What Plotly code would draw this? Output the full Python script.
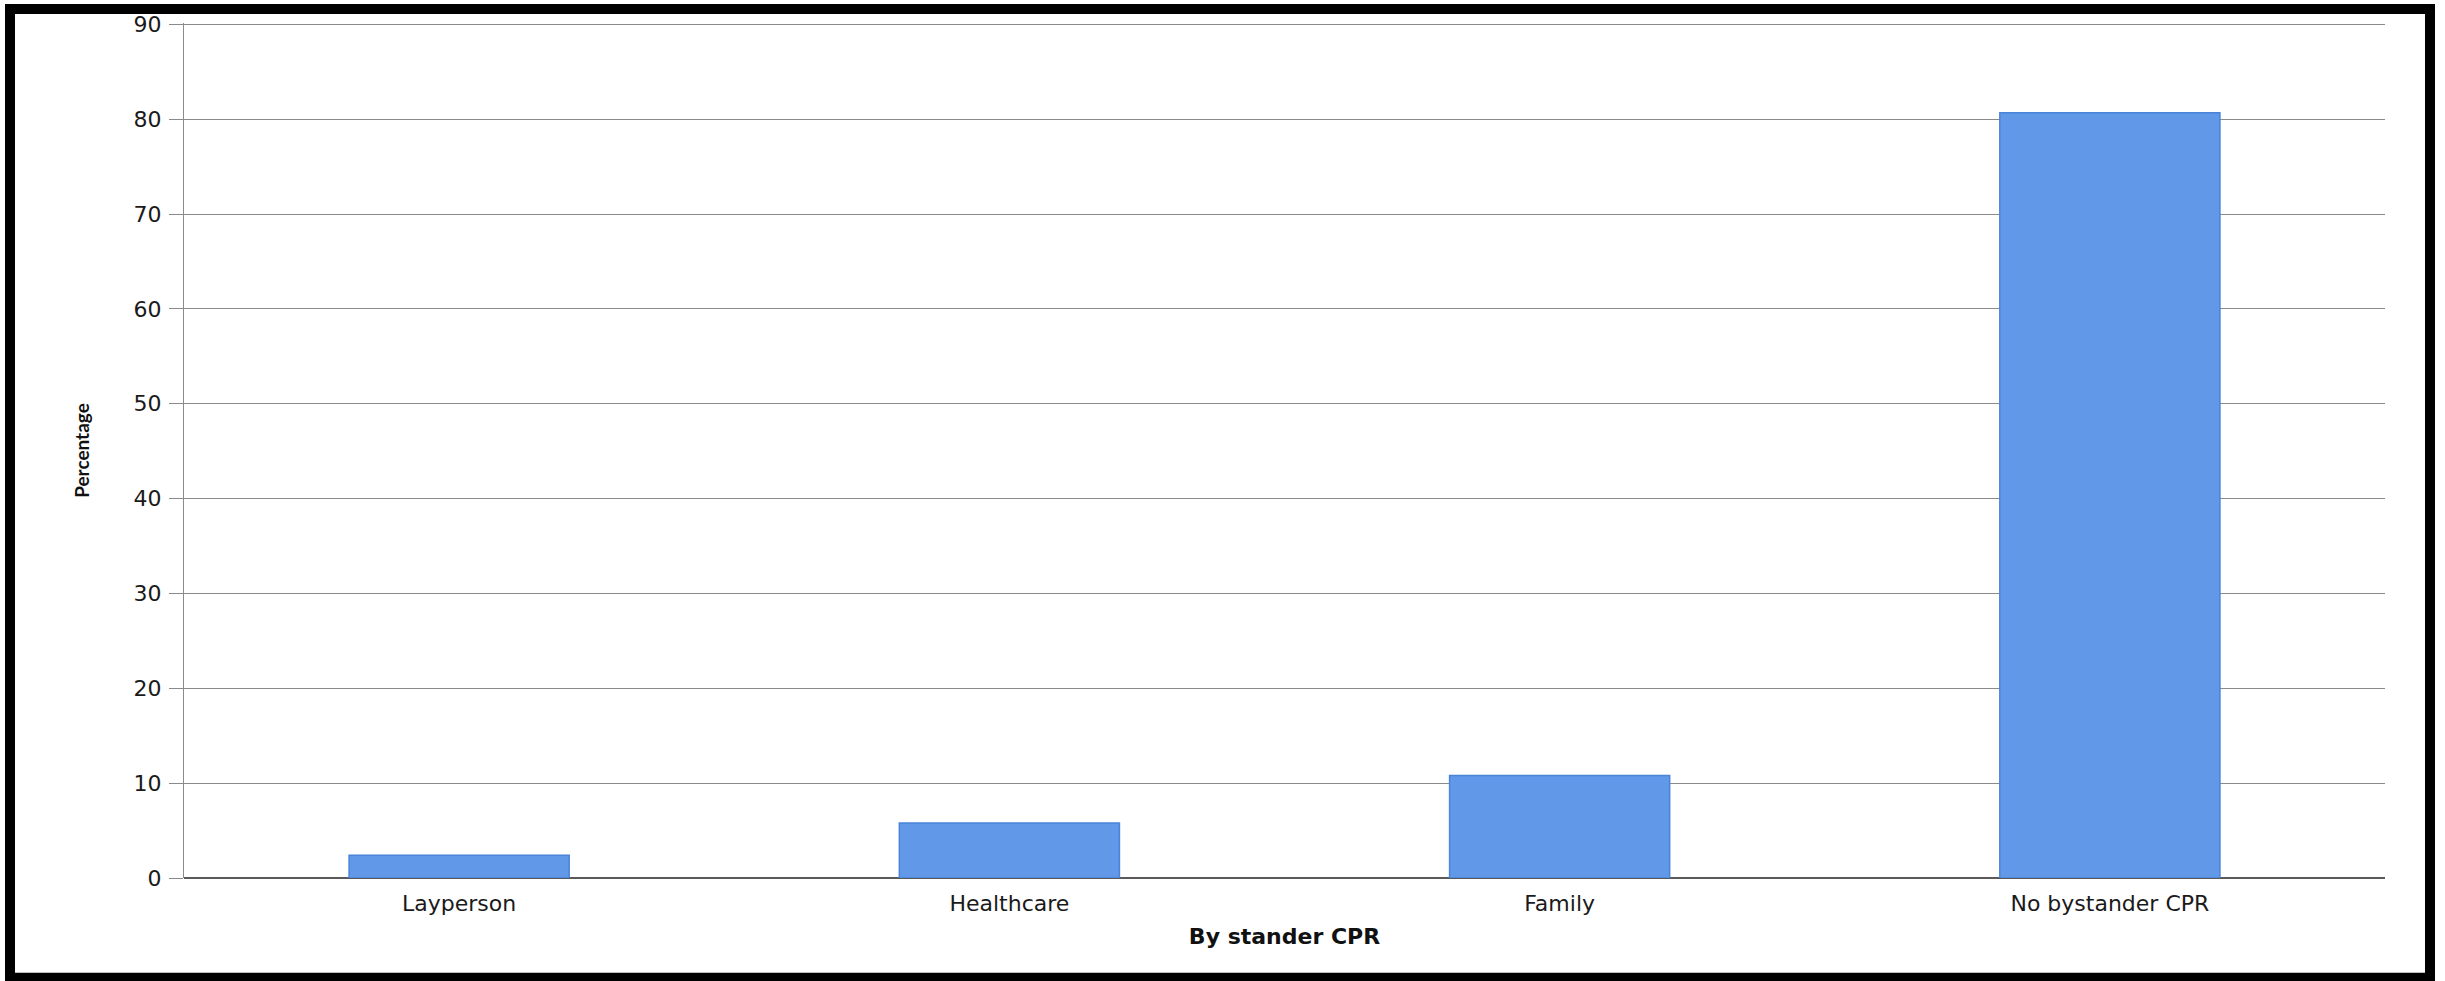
import plotly.graph_objects as go

categories = ["Layperson", "Healthcare", "Family", "No bystander CPR"]
percentages = [2.4, 5.8, 10.8, 80.7]
y_ticks = [0, 10, 20, 30, 40, 50, 60, 70, 80, 90]

W, H = 2445, 981
L, R, T, B = 184, 60, 20, 103
pw, ph = W - L - R, H - T - B

def px_x(x):
    return (x - L) / pw

def px_y(y):
    return (H - B - y) / ph

fig = go.Figure()
fig.add_trace(go.Bar(
    x=categories,
    y=percentages,
    marker=dict(color="#6199e8", line=dict(color="#4a84d8", width=1.5)),
    showlegend=False,
))

fig.update_layout(
    width=W, height=H,
    margin=dict(l=L, r=R, t=T, b=B),
    paper_bgcolor="white",
    plot_bgcolor="white",
    bargap=0.6,
    font=dict(family="DejaVu Sans", color="#1a1a1a"),
    xaxis=dict(
        showgrid=False,
        showline=False,
        ticks="",
        ticklabelstandoff=10,
        tickfont=dict(size=22, family="DejaVu Sans", color="#1a1a1a"),
        title=dict(text="By stander CPR", font=dict(size=22, family="DejaVu Sans", weight="bold", color="#111111"), standoff=13),
    ),
    yaxis=dict(
        range=[0, 90.15],
        tickvals=y_ticks,
        showgrid=True,
        gridcolor="#8a8a8a",
        gridwidth=1,
        showline=True,
        linecolor="#8a8a8a",
        linewidth=1,
        ticks="outside",
        ticklen=14,
        tickcolor="#8a8a8a",
        ticklabelstandoff=3,
        zeroline=True,
        zerolinecolor="#5a5a5a",
        zerolinewidth=1.5,
        tickfont=dict(size=22, family="DejaVu Sans", color="#1a1a1a"),
        title=dict(text="Percentage", font=dict(size=19, family="Lato", weight="bold", color="#111111"), standoff=38),
    ),
    shapes=[
        dict(type="rect", xref="paper", yref="paper",
             x0=px_x(10), x1=px_x(2430), y0=px_y(978), y1=px_y(6),
             line=dict(color="black", width=10), fillcolor="rgba(0,0,0,0)", layer="above"),
    ],
)

fig.write_html("out.html")
